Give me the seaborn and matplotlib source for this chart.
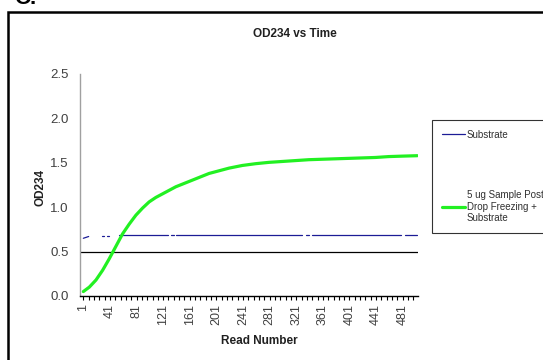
import numpy as np
import pandas as pd
import matplotlib
matplotlib.use("Agg")
import matplotlib.pyplot as plt
from matplotlib.patches import Rectangle
from matplotlib.lines import Line2D
from matplotlib.ticker import FixedLocator
import seaborn as sns

# ---------------- data ----------------
title = "OD234 vs Time"
x_label = "Read Number"
y_label = "OD234"
x_tick_labels = [1, 41, 81, 121, 161, 201, 241, 281, 321, 361, 401, 441, 481]
y_ticks = [0.0, 0.5, 1.0, 1.5, 2.0, 2.5]
threshold = 0.5

green_label = "5 ug Sample Post\nDrop Freezing +\nSubstrate"
green_reads = [1, 10, 20, 30, 40, 50, 60, 70, 80, 90, 100, 110, 120, 130, 140,
               150, 160, 170, 180, 190, 200, 210, 220, 240, 260, 280, 300, 320,
               340, 360, 380, 400, 420, 440, 460, 480, 503]
green_values = [0.05, 0.10, 0.18, 0.29, 0.42, 0.56, 0.70, 0.81, 0.91, 0.99,
                1.06, 1.11, 1.15, 1.19, 1.23, 1.26, 1.29, 1.32, 1.35, 1.38,
                1.40, 1.42, 1.44, 1.47, 1.49, 1.505, 1.515, 1.525, 1.535,
                1.54, 1.545, 1.55, 1.555, 1.56, 1.57, 1.575, 1.58]

blue_label = "Substrate"
blue_reads = [1, 9, 29, 32, 36, 40, 55, 128, 133, 137, 141, 330, 336, 340,
              345, 478, 485, 503]
blue_values = [0.65, 0.67, 0.68, 0.68, 0.68, 0.68, 0.69, 0.69, 0.69, 0.69,
               0.69, 0.69, 0.69, 0.69, 0.69, 0.69, 0.69, 0.69]
blue_segment = [0, 0, 1, 1, 2, 2, 3, 3, 4, 4, 5, 5, 6, 6, 7, 7, 8, 8]

blue_color = "#1c1c96"
green_color = "#22f022"

# ---------------- figure ----------------
sns.set_theme(style="white")
plt.rcParams["font.family"] = ["Liberation Sans", "DejaVu Sans"]

W, H = 543, 360
fig = plt.figure(figsize=(W / 100, H / 100), dpi=100)
ax = fig.add_axes([80 / W, 1 - 296 / H, (418 - 80) / W, (296 - 74) / H])

green_df = pd.DataFrame({"read": green_reads, "od": green_values})
blue_df = pd.DataFrame({"read": blue_reads, "od": blue_values, "seg": blue_segment})

sns.lineplot(data=blue_df, x="read", y="od", units="seg", estimator=None,
             color=blue_color, linewidth=0.9, ax=ax, legend=False)
sns.lineplot(data=green_df, x="read", y="od", color=green_color,
             linewidth=2.3, ax=ax, legend=False)
ax.axhline(threshold, color="black", linewidth=0.9, zorder=1)

ax.set_xlim(-4, 504)
ax.set_ylim(0, 2.5)
ax.set_yticks(y_ticks)
ax.set_yticklabels([f"{v:.1f}" for v in y_ticks])
ax.set_xticks(x_tick_labels)
ax.set_xticklabels([str(v) for v in x_tick_labels], rotation=90)
ax.xaxis.set_minor_locator(FixedLocator(np.arange(1, 504, 8)))

for s in ["top", "right"]:
    ax.spines[s].set_visible(False)
ax.spines["left"].set_color("#a0a0a0")
ax.spines["left"].set_linewidth(1.0)
ax.spines["bottom"].set_color("black")
ax.spines["bottom"].set_linewidth(1.0)

ax.tick_params(axis="y", length=0, pad=8, labelsize=9.5, labelcolor="#404040")
ax.tick_params(axis="x", which="both", direction="out", length=3, width=0.8,
               color="black", bottom=True, pad=3, labelsize=9,
               labelcolor="#404040")

ax.set_xlabel("")
ax.set_ylabel("")
fig.text(259 / W, 1 - 341 / H, x_label, ha="center", va="center",
         fontsize=8.5, fontweight="bold", color="#202020")
fig.text(40 / W, 1 - 187 / H, y_label, ha="center", va="center",
         rotation=90, fontsize=8.5, fontweight="bold", color="#202020")
fig.text(295 / W, 1 - 34 / H, title, ha="center", va="center",
         fontsize=8.5, fontweight="bold", color="#202020")

# legend
handles = [Line2D([], [], color=blue_color, linewidth=0.9),
           Line2D([], [], color=green_color, linewidth=2.3)]
leg = ax.legend(handles, [blue_label, green_label], loc="upper left",
                bbox_to_anchor=(432 / W, 1 - 120 / H),
                bbox_transform=fig.transFigure, fontsize=7, frameon=True,
                fancybox=False, shadow=False, handlelength=2.4,
                handletextpad=0.2, labelspacing=5.2, borderpad=1.0,
                borderaxespad=0)
leg.get_frame().set_edgecolor("black")
leg.get_frame().set_linewidth(0.8)
for t in leg.get_texts():
    t.set_color("#303030")

# outer frame and panel letter
fig.add_artist(Rectangle((8 / W, -0.2), 1.2, 1 - 12 / H + 0.2,
                         transform=fig.transFigure, fill=False,
                         edgecolor="black", linewidth=1.8))
fig.text(14 / W, 1 - 4 / H, "C.", ha="left", va="baseline", fontsize=16,
         fontweight="bold", color="black")

fig.savefig("out.png", dpi=100)
